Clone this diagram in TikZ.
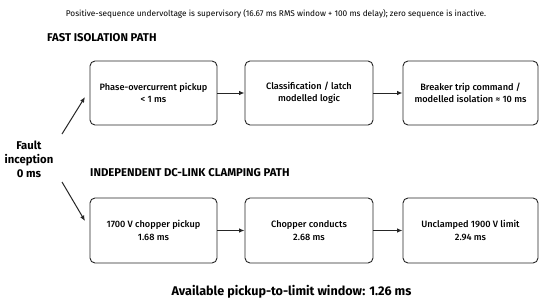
\documentclass[tikz,border=0pt]{standalone}
\usepackage{fontspec}
\setmainfont{Fira Sans}
\newfontfamily\semib{Fira Sans}[UprightFont={* Medium}]
\usetikzlibrary{arrows.meta}
\begin{document}
\begin{tikzpicture}[x=1pt,y=-1pt,
  stepbox/.style={draw=black!85, line width=0.9pt, rounded corners=5pt, minimum width=127pt, minimum height=64pt, align=center, font=\fontsize{9.2}{12.5}\selectfont\semib, inner sep=0pt},
  conn/.style={-{Latex[length=5.5pt,width=4.5pt]}, line width=1pt, black!85},
  hdr/.style={font=\fontsize{11.3}{13}\selectfont\bfseries, anchor=west, inner sep=0pt}]
\useasboundingbox[fill=white] (0,0) rectangle (550,306);
\node[font=\fontsize{8.3}{10}\selectfont, inner sep=0pt] (cap) at (276,14) {Positive-sequence undervoltage is supervisory (16.67 ms RMS window + 100 ms delay); zero sequence is inactive.};
\node[hdr] (h1) at (47,38) {FAST ISOLATION PATH};
\node[hdr] (h2) at (90,173) {INDEPENDENT DC-LINK CLAMPING PATH};
\node[stepbox, minimum width=127pt] (a1) at (153.5,93) {Phase-overcurrent pickup\\< 1 ms};
\node[stepbox, minimum width=128pt] (a2) at (309,93) {Classification / latch\\modelled logic};
\node[stepbox, minimum width=135pt] (a3) at (470.5,93) {Breaker trip command /\\modelled isolation ≈ 10 ms};
\node[stepbox, minimum width=127pt, minimum height=65pt] (b1) at (153.5,230.5) {1700 V chopper pickup\\1.68 ms};
\node[stepbox, minimum width=128pt, minimum height=65pt] (b2) at (309,230.5) {Chopper conducts\\2.68 ms};
\node[stepbox, minimum width=135pt, minimum height=65pt] (b3) at (470.5,230.5) {Unclamped 1900 V limit\\2.94 ms};
\node[font=\fontsize{11.3}{14}\selectfont\bfseries, align=center, inner sep=0pt] (f) at (29,159) {Fault\\inception\\0 ms};
\coordinate (ft) at (62,134);
\coordinate (fb) at (62,182);
\coordinate (ta) at (85,97);
\coordinate (tb) at (85,221);
\draw[conn] (ft) -- (ta);
\draw[conn] (fb) -- (tb);
\draw[conn] (a1) -- (a2);
\draw[conn] (a2) -- (a3);
\draw[conn] (b1) -- (b2);
\draw[conn] (b2) -- (b3);
\node[font=\fontsize{12.6}{15}\selectfont\bfseries, inner sep=0pt] (w) at (291.5,292) {Available pickup-to-limit window: 1.26 ms};
\end{tikzpicture}
\end{document}
